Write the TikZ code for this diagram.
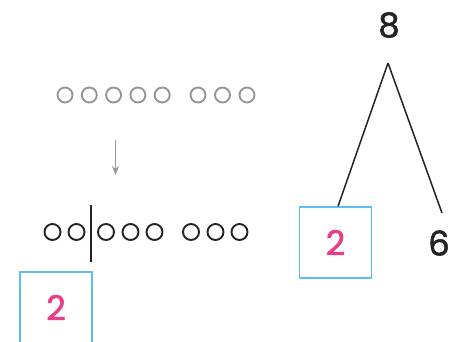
\documentclass[tikz,border=0pt]{standalone}
\usepackage{fontspec}
\setmainfont[FakeBold=1.6]{Poppins}
\usetikzlibrary{arrows.meta}
\definecolor{boxblue}{RGB}{95,190,240}
\definecolor{numpink}{RGB}{232,62,135}
\definecolor{dotgray}{RGB}{150,150,150}
\definecolor{inkdark}{RGB}{35,35,35}
\tikzset{
  digit/.style={inner sep=0pt, font=\fontsize{34}{34}\selectfont},
  answerbox/.style={draw=boxblue, line width=1.4pt, minimum width=72pt, minimum height=71pt, inner sep=0pt},
  dotlight/.style={circle, draw=dotgray, line width=1.9pt, minimum size=15pt, inner sep=0pt},
  dotdark/.style={circle, draw=inkdark, line width=1.9pt, minimum size=16pt, inner sep=0pt},
  branch/.style={draw=inkdark, line width=1.5pt},
}
\begin{document}
\begin{tikzpicture}[x=1pt,y=-1pt]
\useasboundingbox (0,0) rectangle (449,341);

% eight counters, grouped 5 + 3
\foreach \i/\x in {1/65,2/89.3,3/113.6,4/137.9,5/162.2,6/198,7/222.5,8/247}
  \node[dotlight] (t\i) at (\x,95) {};

% arrow down to the split row
\coordinate (arrtop) at (115.5,140);
\coordinate (arrbot) at (115.5,175);
\draw[dotgray, line width=1.4pt, -{Stealth[length=9pt,width=7pt]}] (arrtop) -- (arrbot);

% the same counters, split after the second one
\foreach \i/\x in {1/52.5,2/76.5,3/106,4/130.5,5/154.5,6/191,7/215.5,8/239.5}
  \node[dotdark] (b\i) at (\x,232) {};
\coordinate (cuttop) at (91,205);
\coordinate (cutbot) at (91,262);
\draw[inkdark, line width=1.7pt] (cuttop) -- (cutbot);

% answer box below the counters
\node[answerbox] (ansleft) at (56,307.5) {};
\node[digit, text=numpink] (twoleft) at (ansleft.center) {2};

% number bond 8 = 2 + 6
\node[digit, text=inkdark] (eight) at (389,25) {8};
\coordinate (apex) at (388,63);
\node[answerbox] (ansright) at (335.5,242.5) {};
\node[digit, text=numpink] (tworight) at (ansright.center) {2};
\node[digit, text=inkdark] (six) at (439,243) {6};
\coordinate (sixtop) at (442,213);
\draw[branch] (apex) -- (ansright.north -| 338,0);
\draw[branch] (apex) -- (sixtop);
\end{tikzpicture}
\end{document}
